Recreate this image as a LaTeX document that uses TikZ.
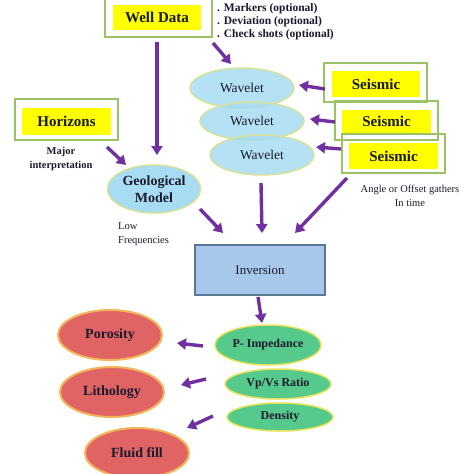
\documentclass[tikz,border=0pt]{standalone}
\usepackage{fontspec}
\setmainfont{Liberation Serif}
\usetikzlibrary{arrows.meta,shapes.geometric}
\definecolor{arrc}{HTML}{7030A0}
\definecolor{gbox}{HTML}{9BC365}
\definecolor{ylw}{HTML}{FFFF00}
\definecolor{wav}{HTML}{A8DCF2}
\definecolor{wavb}{HTML}{D6E29A}
\definecolor{inv}{HTML}{A7C7EB}
\definecolor{invb}{HTML}{5A7894}
\definecolor{teal}{HTML}{55CA8C}
\definecolor{tealb}{HTML}{E6E25A}
\definecolor{rd}{HTML}{E06464}
\definecolor{rdb}{HTML}{F3B45A}
\definecolor{txt}{HTML}{1A1A2E}
\tikzset{
  arr/.style={draw=arrc,line width=3.4pt,-{Triangle[length=9pt,width=11pt]}},
  outerbox/.style={draw=gbox,line width=2pt,minimum width=#1,inner sep=0pt},
  yelbox/.style={fill=ylw,inner sep=0pt,font=\bfseries\fontsize{15}{17}\selectfont,text=txt},
  wavel/.style={ellipse,fill=wav,fill opacity=0.85,text opacity=1,draw=wavb,line width=1.5pt,inner sep=0pt,minimum width=104pt,font=\fontsize{13.5}{15}\selectfont,text=txt},
  resell/.style={ellipse,fill=teal,draw=tealb,line width=1.5pt,inner sep=0pt,minimum width=106pt,font=\bfseries\fontsize{12}{14}\selectfont,text=txt},
  propell/.style={ellipse,fill=rd,draw=rdb,line width=2pt,inner sep=0pt,minimum width=104pt,minimum height=50pt,font=\bfseries\fontsize{14}{16}\selectfont,text=txt},
  small/.style={font=\bfseries\fontsize{11.5}{13}\selectfont,text=txt,inner sep=0pt},
  smalln/.style={font=\fontsize{10.5}{13}\selectfont,text=txt,inner sep=0pt}
}
\begin{document}
\begin{tikzpicture}[x=1pt,y=-1pt]
\useasboundingbox (0,0) rectangle (474,474);
% Well data
\node[outerbox=107pt,minimum height=42pt] (wello) at (158,16) {};
\node[yelbox,minimum width=88pt,minimum height=25pt] (well) at (157,17.5) {Well Data};
\node[small,anchor=west] (m1) at (217,9) {. Markers (optional)};
\node[small,anchor=west] (m2) at (217,22) {. Deviation (optional)};
\node[small,anchor=west] (m3) at (217,34.5) {. Check shots (optional)};
% Horizons
\node[outerbox=103pt,minimum height=41pt] (horo) at (66.5,119.5) {};
\node[yelbox,minimum width=89pt,minimum height=27pt] (hor) at (66.5,121.5) {Horizons};
\node[small,align=center,font=\bfseries\fontsize{10.5}{14}\selectfont] (major) at (61,159) {Major\\interpretation};
% Geological model
\node[ellipse,fill=wav,draw=wavb,line width=1.5pt,minimum width=93pt,minimum height=48pt,inner sep=0pt,align=center,font=\bfseries\fontsize{14}{17}\selectfont,text=txt] (geo) at (154,189) {Geological\\Model};
\node[smalln,anchor=west,align=left,font=\fontsize{10.5}{14}\selectfont] (low) at (118,234) {Low\\Frequencies};
% Wavelets
\node[wavel,minimum height=40pt] (w1) at (242,88) {Wavelet};
\node[wavel,minimum height=38pt] (w2) at (252,121) {Wavelet};
\node[wavel,minimum height=40pt] (w3) at (262,155) {Wavelet};
% Seismic
\node[outerbox=103pt,minimum height=39pt] (s1o) at (375.5,82.5) {};
\node[yelbox,minimum width=88pt,minimum height=26pt] (s1) at (376,84) {Seismic};
\node[outerbox=103pt,minimum height=39pt] (s2o) at (386.5,120.5) {};
\node[yelbox,minimum width=89pt,minimum height=23pt] (s2) at (386.5,121.5) {Seismic};
\node[outerbox=103pt,minimum height=39pt] (s3o) at (393.5,153.5) {};
\node[yelbox,minimum width=89pt,minimum height=26pt] (s3) at (393.5,156) {Seismic};
\node[smalln,align=center,font=\fontsize{10.5}{14}\selectfont] (ang) at (410,196) {Angle or Offset gathers\\In time};
% Inversion
\node[draw=invb,fill=inv,line width=1.5pt,minimum width=130pt,minimum height=50pt,inner sep=0pt,font=\fontsize{13}{15}\selectfont,text=txt] (inv) at (260,270) {Inversion};
% Results
\node[resell,minimum height=40pt] (pimp) at (268,345) {P- Impedance};
\node[resell,minimum height=30pt] (vpvs) at (278,384) {Vp/Vs Ratio};
\node[resell,minimum height=28pt] (dens) at (280,417) {Density};
% Properties
\node[propell] (por) at (110,335) {Porosity};
\node[propell] (lith) at (112,392) {Lithology};
\node[propell] (fluid) at (137,453) {Fluid fill};
% Arrow end points
\coordinate (wa) at (157,42);   \coordinate (wb) at (157,155);
\coordinate (wc) at (213,43);   \coordinate (wd) at (231,64);
\coordinate (ha) at (107,147);  \coordinate (hb) at (126,165);
\coordinate (s1a) at (325,89);  \coordinate (s1b) at (299,85);
\coordinate (s2a) at (335,122); \coordinate (s2b) at (310,119);
\coordinate (s3a) at (341,149); \coordinate (s3b) at (316,147);
\coordinate (sia) at (347,178); \coordinate (sib) at (295,233);
\coordinate (wia) at (261,183); \coordinate (wib) at (262,233);
\coordinate (gia) at (200,209); \coordinate (gib) at (223,233);
\coordinate (ipa) at (258,297); \coordinate (ipb) at (262,323);
\coordinate (ppa) at (203,346); \coordinate (ppb) at (177,343);
\coordinate (vla) at (206,379); \coordinate (vlb) at (181,385);
\coordinate (dfa) at (213,416); \coordinate (dfb) at (187,428);
% Arrows
\draw[arr] (wa) -- (wb);
\draw[arr] (wc) -- (wd);
\draw[arr] (ha) -- (hb);
\draw[arr] (s1a) -- (s1b);
\draw[arr] (s2a) -- (s2b);
\draw[arr] (s3a) -- (s3b);
\draw[arr] (sia) -- (sib);
\draw[arr] (wia) -- (wib);
\draw[arr] (gia) -- (gib);
\draw[arr] (ipa) -- (ipb);
\draw[arr] (ppa) -- (ppb);
\draw[arr] (vla) -- (vlb);
\draw[arr] (dfa) -- (dfb);
\end{tikzpicture}
\end{document}
